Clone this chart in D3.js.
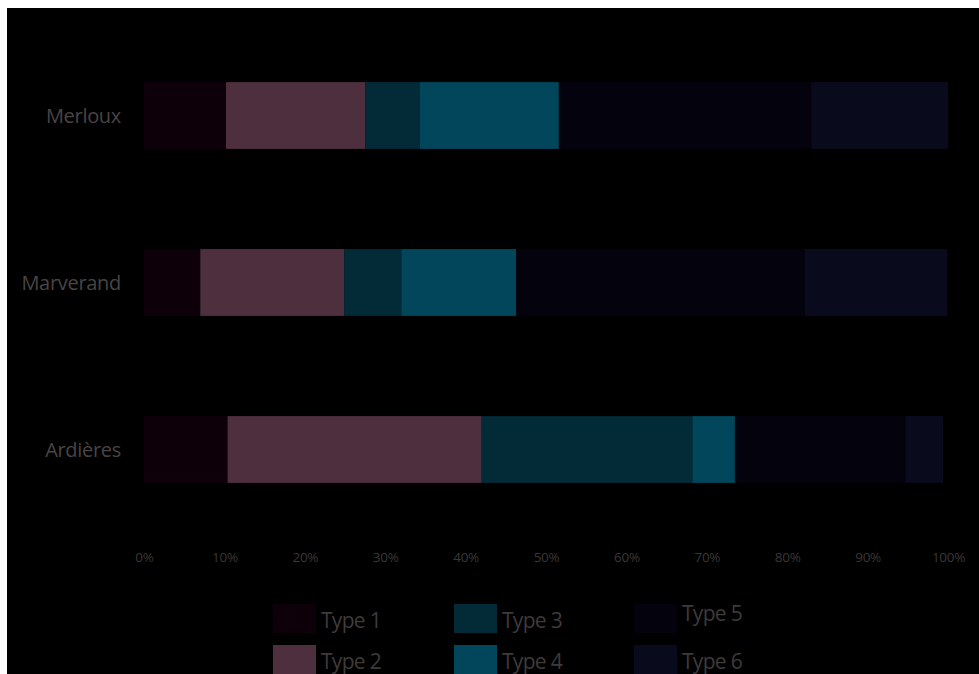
<!DOCTYPE html>
<html>
<head>
<meta charset="utf-8">
<script src="https://cdn.jsdelivr.net/npm/d3@7"></script>
<style>
  body { margin: 0; background: #ffffff; }
  svg { display: block; }
  .catLabel { font-family: "Open Sans", sans-serif; font-size: 20px; fill: #4a4444; letter-spacing: -0.3px; }
  .tickLabel { font-family: "Open Sans", sans-serif; font-size: 13.5px; fill: #3b3636; letter-spacing: -0.3px; }
  .legendText { font-family: "Open Sans", sans-serif; font-size: 21px; fill: #3f3a3a; letter-spacing: -0.7px; }
</style>
</head>
<body>
<script>
const categories = ["Merloux", "Marverand", "Ardières"];
const types = ["Type 1", "Type 2", "Type 3", "Type 4", "Type 5", "Type 6"];
const colors = ["#0e0009", "#4e2f3d", "#032b37", "#01465a", "#04030d", "#090b1c"];
// share of each type per site, in percent
const merloux = [10.2, 17.3, 6.8, 17.3, 31.4, 17.0];
const marverand = [7.0, 17.9, 7.1, 14.3, 35.9, 17.7];
const ardieres = [10.4, 31.6, 26.2, 5.3, 21.2, 4.7];
const tickValues = [0, 10, 20, 30, 40, 50, 60, 70, 80, 90, 100];

const W = 979, H = 674;
const svg = d3.select("body").append("svg").attr("width", W).attr("height", H);

// dark panel, white strip at top and left
svg.append("rect")
  .attr("x", 7).attr("y", 8)
  .attr("width", W - 7).attr("height", H - 8)
  .attr("fill", "#000000");

const rows = [merloux, marverand, ardieres];
const table = categories.map(function (c, i) {
  let row = { cat: c };
  types.forEach(function (t, j) { row[t] = rows[i][j]; });
  return row;
});
const series = d3.stack().keys(types)(table);

const x = d3.scaleLinear().domain([0, 100]).range([144, 948]);
const y = d3.scaleBand().domain(categories).range([32, 533])
  .paddingInner(0.6).paddingOuter(0.3);
const color = d3.scaleOrdinal().domain(types).range(colors);

// bars
svg.append("g")
  .selectAll("g")
  .data(series)
  .join("g")
  .attr("fill", d => color(d.key))
  .selectAll("rect")
  .data(d => d)
  .join("rect")
  .attr("x", d => x(d[0]))
  .attr("y", d => y(d.data.cat))
  .attr("width", d => x(d[1]) - x(d[0]))
  .attr("height", y.bandwidth());

// category axis
const yAxis = svg.append("g")
  .attr("transform", "translate(121,0)")
  .call(d3.axisLeft(y).tickSize(0).tickPadding(0));
yAxis.select(".domain").remove();
yAxis.selectAll("text").attr("class", "catLabel").attr("fill", null).attr("dy", "0.35em");

// percent axis
const xAxis = svg.append("g")
  .attr("transform", "translate(0,548)")
  .call(d3.axisBottom(x).tickValues(tickValues).tickSize(0).tickPadding(4)
    .tickFormat(d => d + "%"));
xAxis.select(".domain").remove();
xAxis.selectAll("text").attr("class", "tickLabel").attr("fill", null).attr("dy", "0.71em");

// legend, three columns of two
const legendCols = [273, 454, 634];
const legendRows = [604, 645];
const textOffsets = [0, 0, 0, 0, -7, 0];
const legend = svg.append("g");
types.forEach(function (t, i) {
  let col = Math.floor(i / 2), row = i % 2;
  let lx = legendCols[col], ly = legendRows[row];
  legend.append("rect")
    .attr("x", lx).attr("y", ly)
    .attr("width", 43).attr("height", 29)
    .attr("fill", color(t));
  legend.append("text")
    .attr("class", "legendText")
    .attr("x", lx + 48)
    .attr("y", ly + 24 + textOffsets[i])
    .text(t);
});
</script>
</body>
</html>
